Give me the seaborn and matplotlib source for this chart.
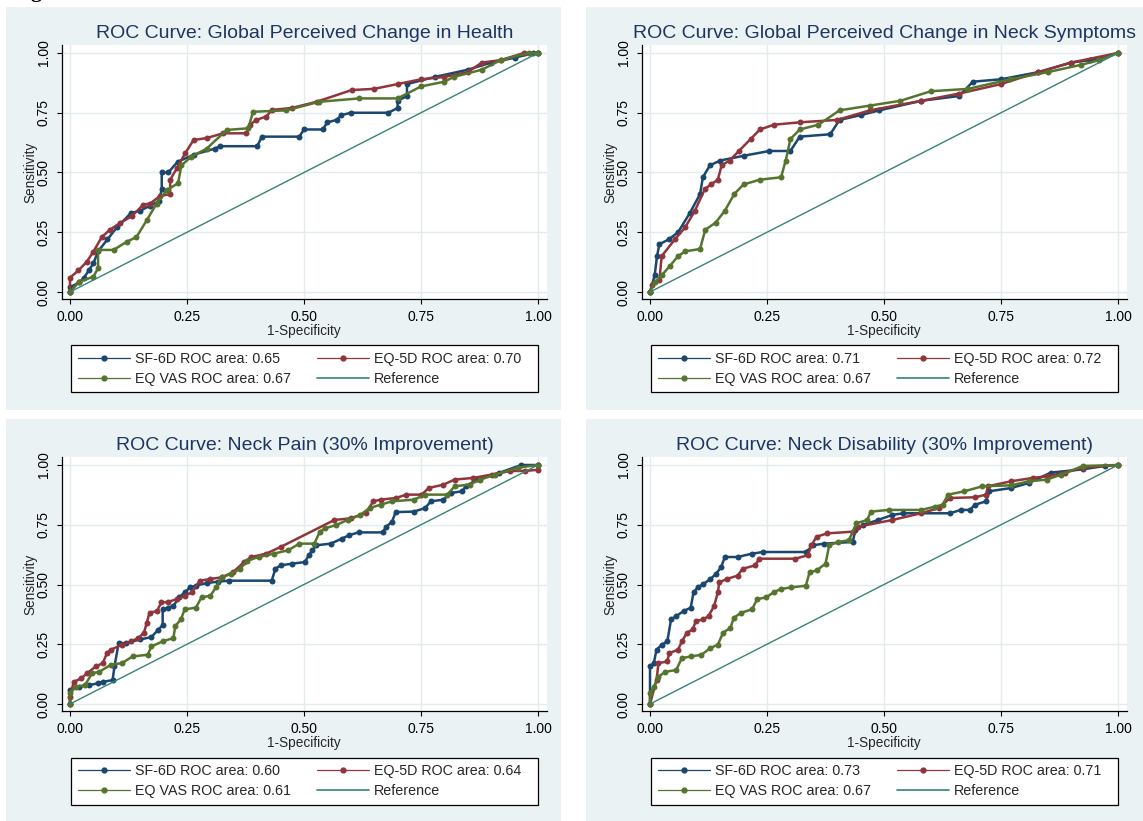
import matplotlib
matplotlib.use("Agg")
import matplotlib.pyplot as plt
import seaborn as sns
from matplotlib.patches import Rectangle
from matplotlib.lines import Line2D

# ---------------- data ----------------
titles = ["ROC Curve: Global Perceived Change in Health",
          "ROC Curve: Global Perceived Change in Neck Symptoms",
          "ROC Curve: Neck Pain (30% Improvement)",
          "ROC Curve: Neck Disability (30% Improvement)"]
series_names = ["SF-6D", "EQ-5D", "EQ VAS"]
auc_health = [0.65, 0.70, 0.67]
auc_symptoms = [0.71, 0.72, 0.67]
auc_pain = [0.60, 0.64, 0.61]
auc_disab = [0.73, 0.71, 0.67]
tick_vals = [0.0, 0.25, 0.5, 0.75, 1.0]
tick_labels = ["0.00", "0.25", "0.50", "0.75", "1.00"]
ref_x = [0, 1]
ref_y = [0, 1]

# Panel 1: Global perceived change in health
hlth_sf6d_x = [0, 0, 0.02, 0.03, 0.04, 0.05, 0.06, 0.08, 0.10, 0.13, 0.15, 0.17, 0.19, 0.196, 0.196, 0.21, 0.23, 0.265, 0.31, 0.32, 0.40, 0.41, 0.49, 0.50, 0.54, 0.55, 0.57, 0.58, 0.60, 0.68, 0.70, 0.70, 0.72, 0.72, 0.78, 0.85, 0.90, 0.95, 0.99, 1.0]
hlth_sf6d_y = [0, 0.02, 0.04, 0.06, 0.09, 0.12, 0.17, 0.22, 0.27, 0.33, 0.34, 0.36, 0.38, 0.43, 0.50, 0.50, 0.545, 0.575, 0.60, 0.61, 0.61, 0.65, 0.65, 0.68, 0.68, 0.71, 0.72, 0.74, 0.75, 0.75, 0.77, 0.80, 0.82, 0.87, 0.90, 0.93, 0.96, 0.98, 1.0, 1.0]
hlth_eq5d_x = [0, 0, 0.018, 0.036, 0.05, 0.068, 0.085, 0.107, 0.132, 0.157, 0.171, 0.192, 0.214, 0.214, 0.228, 0.246, 0.264, 0.292, 0.327, 0.377, 0.385, 0.398, 0.419, 0.432, 0.474, 0.527, 0.602, 0.65, 0.70, 0.75, 0.80, 0.85, 0.88, 0.92, 0.97, 1.0]
hlth_eq5d_y = [0, 0.06, 0.09, 0.127, 0.169, 0.23, 0.26, 0.289, 0.317, 0.366, 0.37, 0.401, 0.41, 0.469, 0.517, 0.58, 0.636, 0.644, 0.664, 0.664, 0.70, 0.72, 0.734, 0.762, 0.77, 0.796, 0.845, 0.85, 0.87, 0.89, 0.90, 0.92, 0.96, 0.97, 1.0, 1.0]
hlth_vas_x = [0, 0.02, 0.05, 0.06, 0.06, 0.093, 0.121, 0.142, 0.164, 0.185, 0.207, 0.231, 0.238, 0.259, 0.292, 0.335, 0.381, 0.391, 0.462, 0.533, 0.618, 0.70, 0.75, 0.80, 0.82, 0.88, 0.92, 0.98, 1.0]
hlth_vas_y = [0, 0.043, 0.064, 0.10, 0.176, 0.176, 0.21, 0.23, 0.30, 0.37, 0.427, 0.455, 0.53, 0.566, 0.60, 0.678, 0.685, 0.754, 0.76, 0.796, 0.81, 0.81, 0.86, 0.88, 0.90, 0.93, 0.97, 1.0, 1.0]

# Panel 2: Global perceived change in neck symptoms
symp_sf6d_x = [0, 0.01, 0.015, 0.02, 0.04, 0.06, 0.085, 0.107, 0.113, 0.128, 0.15, 0.20, 0.255, 0.30, 0.32, 0.385, 0.405, 0.45, 0.49, 0.58, 0.66, 0.69, 0.75, 0.83, 0.90, 0.94, 1.0]
symp_sf6d_y = [0, 0.07, 0.15, 0.20, 0.22, 0.25, 0.33, 0.41, 0.48, 0.53, 0.55, 0.57, 0.59, 0.59, 0.65, 0.66, 0.72, 0.74, 0.76, 0.80, 0.82, 0.88, 0.89, 0.92, 0.96, 0.97, 1.0]
symp_eq5d_x = [0, 0.005, 0.02, 0.025, 0.053, 0.075, 0.096, 0.117, 0.13, 0.145, 0.153, 0.17, 0.19, 0.215, 0.235, 0.265, 0.32, 0.40, 0.47, 0.58, 0.66, 0.75, 0.83, 0.90, 1.0]
symp_eq5d_y = [0, 0.03, 0.05, 0.15, 0.22, 0.27, 0.34, 0.43, 0.45, 0.47, 0.53, 0.55, 0.59, 0.64, 0.68, 0.70, 0.71, 0.72, 0.76, 0.80, 0.83, 0.87, 0.92, 0.96, 1.0]
symp_vas_x = [0, 0.01, 0.025, 0.043, 0.06, 0.075, 0.107, 0.118, 0.14, 0.16, 0.18, 0.20, 0.235, 0.28, 0.29, 0.30, 0.32, 0.36, 0.405, 0.47, 0.535, 0.60, 0.68, 0.77, 0.85, 0.92, 0.96, 1.0]
symp_vas_y = [0, 0.04, 0.07, 0.11, 0.15, 0.17, 0.18, 0.26, 0.29, 0.34, 0.41, 0.45, 0.47, 0.48, 0.55, 0.64, 0.68, 0.70, 0.76, 0.78, 0.80, 0.84, 0.85, 0.89, 0.92, 0.95, 0.97, 1.0]

# Panel 3: Neck pain
pain_sf6d_x = [0, 0, 0.02, 0.04, 0.059, 0.071, 0.091, 0.095, 0.104, 0.119, 0.15, 0.174, 0.188, 0.198, 0.198, 0.209, 0.221, 0.233, 0.245, 0.257, 0.269, 0.292, 0.316, 0.34, 0.431, 0.439, 0.45, 0.474, 0.502, 0.51, 0.518, 0.526, 0.557, 0.581, 0.597, 0.617, 0.668, 0.676, 0.688, 0.696, 0.735, 0.759, 0.771, 0.798, 0.814, 0.838, 0.846, 0.87, 0.917, 0.964, 1.0]
pain_sf6d_y = [0, 0.058, 0.072, 0.079, 0.086, 0.093, 0.10, 0.157, 0.255, 0.255, 0.27, 0.28, 0.31, 0.33, 0.396, 0.403, 0.41, 0.446, 0.467, 0.488, 0.495, 0.506, 0.512, 0.516, 0.516, 0.566, 0.58, 0.587, 0.594, 0.622, 0.643, 0.664, 0.671, 0.692, 0.707, 0.718, 0.718, 0.742, 0.763, 0.803, 0.805, 0.82, 0.848, 0.855, 0.883, 0.89, 0.911, 0.94, 0.967, 1.0, 1.0]
pain_eq5d_x = [0, 0, 0.008, 0.024, 0.036, 0.055, 0.07, 0.079, 0.087, 0.111, 0.13, 0.146, 0.158, 0.164, 0.17, 0.186, 0.195, 0.209, 0.229, 0.245, 0.261, 0.277, 0.30, 0.324, 0.348, 0.372, 0.387, 0.419, 0.45, 0.565, 0.60, 0.632, 0.648, 0.664, 0.696, 0.719, 0.751, 0.767, 0.798, 0.822, 0.862, 0.901, 0.941, 0.972, 1.0, 1.0]
pain_eq5d_y = [0, 0.03, 0.093, 0.107, 0.128, 0.157, 0.171, 0.213, 0.227, 0.248, 0.262, 0.276, 0.298, 0.34, 0.382, 0.389, 0.425, 0.427, 0.439, 0.453, 0.467, 0.516, 0.523, 0.53, 0.551, 0.594, 0.615, 0.629, 0.657, 0.77, 0.777, 0.798, 0.848, 0.855, 0.862, 0.876, 0.876, 0.904, 0.918, 0.939, 0.946, 0.96, 0.975, 0.975, 0.98, 1.0]
pain_vas_x = [0, 0, 0.012, 0.032, 0.047, 0.063, 0.087, 0.111, 0.134, 0.166, 0.174, 0.198, 0.221, 0.225, 0.237, 0.245, 0.269, 0.281, 0.30, 0.312, 0.324, 0.344, 0.364, 0.379, 0.403, 0.435, 0.466, 0.49, 0.522, 0.534, 0.545, 0.569, 0.593, 0.62, 0.64, 0.664, 0.688, 0.735, 0.759, 0.806, 0.822, 0.854, 0.877, 0.909, 0.957, 1.0]
pain_vas_y = [0, 0.044, 0.072, 0.079, 0.128, 0.135, 0.164, 0.171, 0.199, 0.206, 0.241, 0.262, 0.276, 0.326, 0.354, 0.396, 0.403, 0.446, 0.453, 0.488, 0.53, 0.544, 0.566, 0.60, 0.615, 0.629, 0.643, 0.671, 0.671, 0.721, 0.735, 0.749, 0.77, 0.791, 0.82, 0.834, 0.848, 0.855, 0.876, 0.876, 0.911, 0.918, 0.939, 0.96, 0.989, 1.0]

# Panel 4: Neck disability
dis_sf6d_x = [0, 0, 0.008, 0.014, 0.025, 0.037, 0.045, 0.056, 0.072, 0.087, 0.093, 0.102, 0.114, 0.129, 0.141, 0.152, 0.16, 0.187, 0.218, 0.241, 0.333, 0.348, 0.372, 0.433, 0.439, 0.456, 0.487, 0.518, 0.541, 0.641, 0.664, 0.683, 0.695, 0.718, 0.725, 0.772, 0.81, 0.856, 0.925, 0.972, 1.0]
dis_sf6d_y = [0, 0.157, 0.171, 0.227, 0.248, 0.262, 0.354, 0.368, 0.389, 0.403, 0.467, 0.488, 0.502, 0.523, 0.544, 0.573, 0.615, 0.615, 0.629, 0.636, 0.636, 0.664, 0.671, 0.678, 0.728, 0.749, 0.77, 0.791, 0.798, 0.798, 0.812, 0.812, 0.834, 0.848, 0.89, 0.904, 0.925, 0.968, 0.982, 0.996, 1.0]
dis_eq5d_x = [0, 0.014, 0.018, 0.037, 0.041, 0.06, 0.068, 0.079, 0.091, 0.098, 0.114, 0.125, 0.137, 0.145, 0.148, 0.164, 0.187, 0.198, 0.225, 0.233, 0.31, 0.337, 0.345, 0.356, 0.379, 0.433, 0.445, 0.518, 0.579, 0.618, 0.641, 0.695, 0.718, 0.722, 0.772, 0.818, 0.848, 0.887, 0.925, 1.0]
dis_eq5d_y = [0, 0.10, 0.171, 0.178, 0.213, 0.227, 0.262, 0.298, 0.312, 0.347, 0.354, 0.368, 0.41, 0.467, 0.509, 0.523, 0.537, 0.566, 0.58, 0.608, 0.608, 0.622, 0.664, 0.70, 0.714, 0.721, 0.742, 0.77, 0.798, 0.82, 0.862, 0.865, 0.876, 0.911, 0.932, 0.946, 0.953, 0.968, 0.989, 1.0]
dis_vas_x = [0, 0, 0.008, 0.018, 0.033, 0.056, 0.068, 0.087, 0.11, 0.129, 0.145, 0.156, 0.172, 0.179, 0.195, 0.218, 0.229, 0.248, 0.264, 0.279, 0.302, 0.333, 0.341, 0.356, 0.375, 0.383, 0.402, 0.425, 0.441, 0.464, 0.472, 0.51, 0.579, 0.61, 0.625, 0.637, 0.672, 0.71, 0.772, 0.81, 0.848, 0.879, 0.925, 1.0]
dis_vas_y = [0, 0.044, 0.072, 0.114, 0.135, 0.142, 0.192, 0.199, 0.206, 0.234, 0.248, 0.298, 0.319, 0.361, 0.382, 0.396, 0.439, 0.446, 0.467, 0.481, 0.488, 0.495, 0.551, 0.559, 0.587, 0.664, 0.678, 0.685, 0.756, 0.77, 0.805, 0.812, 0.812, 0.826, 0.834, 0.876, 0.89, 0.911, 0.915, 0.932, 0.939, 0.96, 0.996, 1.0]

# ---------------- style ----------------
W, H = 1143, 821
sns.set_theme(style="white")
plt.rcParams['font.family'] = ['Liberation Sans', 'DejaVu Sans']

BG = "#EAF2F3"
GRID = "#E2EBED"
TITLE_C = "#1E3563"
C_SF = "#1A476F"
C_EQ = "#90353B"
C_VAS = "#55752F"
C_REF = "#378374"
colors = [C_SF, C_EQ, C_VAS]

fig = plt.figure(figsize=(W / 100, H / 100), dpi=100)
fig.patch.set_facecolor("white")

panels = [
    (0, 0, titles[0], auc_health, [(hlth_sf6d_x, hlth_sf6d_y), (hlth_eq5d_x, hlth_eq5d_y), (hlth_vas_x, hlth_vas_y)]),
    (580, 0, titles[1], auc_symptoms, [(symp_sf6d_x, symp_sf6d_y), (symp_eq5d_x, symp_eq5d_y), (symp_vas_x, symp_vas_y)]),
    (0, 412, titles[2], auc_pain, [(pain_sf6d_x, pain_sf6d_y), (pain_eq5d_x, pain_eq5d_y), (pain_vas_x, pain_vas_y)]),
    (580, 412, titles[3], auc_disab, [(dis_sf6d_x, dis_sf6d_y), (dis_eq5d_x, dis_eq5d_y), (dis_vas_x, dis_vas_y)]),
]


def fx(px):
    return px / W


def fy(py):
    return 1 - py / H


# partially visible heading at the very top (cut off in the original)
fig.text(fx(13), fy(-2.6), "Figure", fontsize=15.5, fontweight="bold",
         family="Liberation Serif", ha="left", va="baseline", color="black")

LFS = 10.3  # legend font size (pt)
EM = LFS * 100 / 72

for ox, oy, title, aucs, data in panels:
    # panel background
    x0 = 6 + ox
    x1 = 561 + ox if ox == 0 else W
    y0 = 7 + oy
    y1 = 410 + oy if oy == 0 else H
    fig.patches.append(Rectangle((fx(x0), fy(y1)), (x1 - x0) / W, (y1 - y0) / H,
                                 transform=fig.transFigure, facecolor=BG,
                                 edgecolor="none", zorder=-5))
    L, R, T, B = 62 + ox, 547 + ox, 45 + oy, 299 + oy
    ax = fig.add_axes([fx(L), fy(B), (R - L) / W, (B - T) / H])
    ax.set_facecolor("white")
    for (xs, ys), c in zip(data, colors):
        sns.lineplot(x=xs, y=ys, ax=ax, sort=False, estimator=None, color=c,
                     linewidth=1.8, marker="o", markersize=4.3,
                     markeredgewidth=0, legend=False, zorder=3)
    sns.lineplot(x=ref_x, y=ref_y, ax=ax, sort=False, estimator=None,
                 color=C_REF, linewidth=1.0, legend=False, zorder=4)
    ax.set_xlim(-8 / 468, 1 + 9 / 468)
    ax.set_ylim(-7 / 239, 1 + 8 / 239)
    ax.set_xticks(tick_vals)
    ax.set_xticklabels(tick_labels)
    ax.set_yticks(tick_vals)
    ax.set_yticklabels(tick_labels, rotation=90, va="center")
    ax.grid(True, color=GRID, linewidth=1.0, zorder=0)
    ax.set_axisbelow(True)
    for s in ["top", "right"]:
        ax.spines[s].set_visible(False)
    for s in ["left", "bottom"]:
        ax.spines[s].set_color("black")
        ax.spines[s].set_linewidth(0.9)
    ax.tick_params(axis="both", which="both", direction="out", length=3.6,
                   width=0.8, color="black", labelsize=10, pad=4.5,
                   bottom=True, left=True, labelcolor="black")
    ax.set_xlabel("")
    ax.set_ylabel("")
    # title and axis titles
    cx = (70 + 538) / 2 + ox
    fig.text(fx((L + R) / 2), fy(38 + oy), title, fontsize=14, color=TITLE_C,
             ha="center", va="baseline")
    fig.text(fx(cx), fy(331 + oy), "1-Specificity", fontsize=9.8,
             ha="center", va="center")
    fig.text(fx(30 + ox), fy(172.5 + oy), "Sensitivity", fontsize=9.8,
             ha="center", va="center", rotation=90)
    # legend box
    fig.patches.append(Rectangle((fx(71 + ox), fy(392.5 + oy)), 467 / W, 47 / H,
                                 transform=fig.transFigure, facecolor="white",
                                 edgecolor="black", linewidth=0.9, zorder=1))
    handles = [Line2D([], [], color=colors[0], marker="o", markersize=3.5, linewidth=0.9),
               Line2D([], [], color=colors[2], marker="o", markersize=3.5, linewidth=0.9),
               Line2D([], [], color=colors[1], marker="o", markersize=3.5, linewidth=0.9),
               Line2D([], [], color=C_REF, linewidth=1.2)]
    labels = [f"{series_names[0]} ROC area: {aucs[0]:.2f}",
              f"{series_names[2]} ROC area: {aucs[2]:.2f}",
              f"{series_names[1]} ROC area: {aucs[1]:.2f}",
              "Reference"]
    fig.legend(handles, labels, ncol=2, loc="center left",
               bbox_to_anchor=(fx(78 + ox), fy(369 + oy)),
               bbox_transform=fig.transFigure,
               fontsize=LFS, frameon=False,
               handlelength=52 / EM, handletextpad=5 / EM, numpoints=1,
               columnspacing=26 / EM, labelspacing=0.4, borderpad=0,
               borderaxespad=0)

fig.savefig("out.png", dpi=100, facecolor="white")
